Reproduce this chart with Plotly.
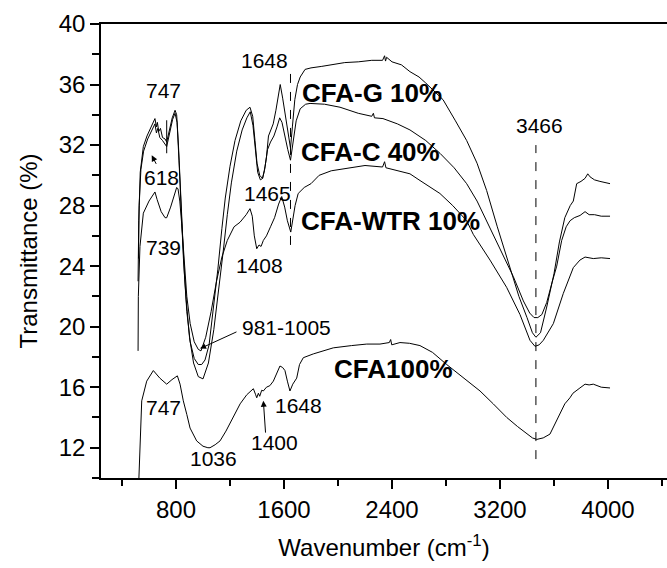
import plotly.graph_objects as go

# ---- data (wavenumber cm-1, transmittance %) ----
G_wn = [519, 524, 535, 558, 585, 607, 630, 644, 655, 662, 672, 685, 700, 719, 731, 750, 772, 793, 805, 818, 830, 845, 862, 880, 905, 935, 965, 990, 1015, 1045, 1075, 1110, 1140, 1165, 1200, 1237, 1280, 1320, 1348, 1368, 1385, 1400, 1420, 1440, 1455, 1470, 1485, 1500, 1520, 1540, 1558, 1572, 1590, 1608, 1628, 1648, 1662, 1680, 1700, 1720, 1756, 1800, 1880, 1960, 2050, 2150, 2250, 2330, 2345, 2352, 2360, 2400, 2470, 2533, 2600, 2650, 2778, 2870, 2953, 3030, 3101, 3180, 3274, 3340, 3400, 3440, 3466, 3500, 3546, 3600, 3640, 3680, 3720, 3743, 3768, 3800, 3830, 3850, 3867, 3900, 3940, 3980, 4015]
G_T = [23.0, 27.0, 30.2, 31.9, 32.6, 33.0, 33.5, 33.75, 33.2, 33.5, 32.9, 33.1, 32.5, 32.4, 32.2, 32.9, 33.8, 34.3, 34.0, 32.0, 29.5, 26.5, 23.5, 21.0, 19.0, 17.9, 17.5, 17.5, 17.8, 18.8, 21.0, 23.8, 26.5, 28.5, 30.6, 32.3, 33.6, 34.3, 34.5, 33.9, 32.3, 30.8, 30.0, 29.8, 30.3, 31.2, 32.6, 33.0, 33.4, 34.3, 35.3, 36.0, 35.1, 34.0, 32.8, 31.8, 33.2, 35.0, 36.0, 36.5, 37.0, 37.1, 37.2, 37.3, 37.45, 37.5, 37.6, 37.6, 37.9, 37.55, 37.8, 37.5, 37.3, 36.85, 36.5, 36.1, 35.0, 33.6, 32.3, 30.8, 29.0, 26.6, 23.8, 22.0, 20.6, 19.6, 19.3, 19.6, 21.3, 23.5, 25.6, 27.2, 28.0, 28.3, 29.45, 29.6, 29.8, 30.1, 29.9, 29.7, 29.6, 29.5, 29.45]

C_wn = [522, 527, 540, 560, 590, 620, 644, 655, 665, 680, 700, 731, 752, 775, 793, 808, 822, 838, 855, 875, 900, 930, 965, 1000, 1040, 1080, 1120, 1150, 1180, 1210, 1250, 1290, 1325, 1350, 1370, 1388, 1405, 1425, 1442, 1460, 1478, 1500, 1525, 1548, 1568, 1585, 1605, 1628, 1648, 1665, 1690, 1720, 1760, 1793, 1900, 2015, 2150, 2250, 2262, 2270, 2333, 2440, 2533, 2650, 2756, 2860, 2953, 3030, 3101, 3200, 3299, 3373, 3420, 3452, 3480, 3510, 3546, 3585, 3620, 3657, 3690, 3719, 3750, 3793, 3830, 3860, 3900, 3950, 4015]
C_T = [24.5, 28.0, 30.4, 31.6, 32.4, 33.0, 33.4, 32.8, 33.1, 32.5, 32.3, 31.9, 32.7, 33.7, 34.1, 33.5, 31.0, 27.8, 24.5, 21.8, 19.3, 17.6, 16.7, 16.55, 17.6, 19.8, 22.6, 25.0, 27.4, 29.5, 31.6, 33.0, 33.8, 34.2, 33.3, 31.5, 30.2, 29.7, 29.8, 30.6, 31.7, 32.2, 32.6, 33.2, 33.8, 33.5, 32.6, 31.7, 31.0, 32.2, 33.6, 34.4, 34.7, 34.75, 34.7, 34.5, 34.1, 33.9, 34.1, 33.8, 33.75, 33.4, 33.0, 32.3, 31.45, 30.5, 29.45, 28.3, 27.0, 25.2, 23.3, 21.7, 20.9, 20.6, 20.6, 20.8, 21.6, 22.9, 24.0, 25.7, 26.6, 27.0, 27.2, 27.35, 27.6, 27.4, 27.4, 27.3, 27.3]

W_wn = [519, 521, 533, 558, 600, 632, 644, 660, 690, 719, 731, 760, 790, 805, 815, 828, 842, 860, 880, 905, 935, 965, 985, 1020, 1060, 1100, 1140, 1180, 1230, 1274, 1320, 1348, 1365, 1380, 1398, 1415, 1430, 1447, 1470, 1500, 1530, 1560, 1583, 1605, 1625, 1650, 1665, 1682, 1705, 1750, 1800, 1860, 1950, 2100, 2200, 2330, 2345, 2355, 2450, 2533, 2600, 2755, 2850, 2953, 3002, 3126, 3249, 3348, 3422, 3459, 3490, 3521, 3595, 3669, 3743, 3792, 3830, 3891, 3950, 4015]
W_T = [18.4, 22.0, 25.3, 27.5, 28.3, 28.8, 28.9, 28.4, 27.6, 27.2, 27.2, 27.9, 28.7, 29.2, 29.1, 28.3, 26.8, 24.2, 22.0, 20.2, 19.0, 18.5, 18.4, 19.3, 21.0, 23.0, 24.6, 25.7, 26.6, 26.9, 27.4, 27.8, 27.3, 26.0, 25.15, 25.4, 25.3, 25.7, 26.0, 26.6, 27.2, 28.1, 28.6, 27.9, 27.0, 26.25, 27.0, 28.0, 28.8, 29.2, 29.45, 30.0, 30.3, 30.5, 30.65, 30.55, 30.9, 30.5, 30.3, 30.1, 29.7, 28.8, 28.0, 27.0, 26.1, 24.4, 22.6, 20.8, 19.1, 18.7, 18.8, 19.1, 20.2, 22.2, 23.9, 24.4, 24.6, 24.5, 24.55, 24.5]

F_wn = [519, 528, 546, 583, 632, 680, 731, 770, 810, 830, 854, 880, 904, 953, 1000, 1036, 1052, 1090, 1126, 1170, 1224, 1275, 1324, 1350, 1373, 1390, 1398, 1410, 1420, 1435, 1447, 1470, 1495, 1521, 1545, 1570, 1590, 1607, 1625, 1644, 1665, 1694, 1715, 1743, 1817, 1965, 2100, 2213, 2311, 2380, 2390, 2398, 2459, 2530, 2607, 2700, 2805, 2930, 3052, 3150, 3250, 3330, 3398, 3440, 3472, 3520, 3570, 3610, 3644, 3680, 3718, 3740, 3792, 3830, 3860, 3891, 3950, 4015]
F_T = [8.5, 10.7, 15.1, 16.4, 17.1, 16.6, 16.2, 16.5, 16.75, 16.2, 15.1, 14.2, 13.3, 12.45, 12.1, 12.0, 12.0, 12.2, 12.45, 13.1, 14.0, 14.9, 15.5, 15.7, 15.9, 15.5, 15.3, 15.6, 15.4, 15.8, 15.75, 16.0, 16.1, 16.4, 16.9, 17.4, 17.3, 17.1, 16.4, 15.75, 16.2, 16.6, 17.5, 17.95, 18.2, 18.6, 18.75, 18.85, 18.85, 18.95, 19.15, 18.8, 18.95, 18.9, 18.75, 18.3, 17.5, 16.6, 15.75, 14.9, 14.0, 13.4, 12.9, 12.65, 12.55, 12.65, 12.9, 13.6, 14.2, 14.9, 15.3, 15.6, 15.95, 16.2, 16.15, 16.2, 16.0, 15.95]

series = [("CFA-G 10%", G_wn, G_T), ("CFA-C 40%", C_wn, C_T),
          ("CFA-WTR 10%", W_wn, W_T), ("CFA100%", F_wn, F_T)]

X_RANGE = [244.4, 4437]
Y_RANGE = [10, 40]
FONT = "Arial, Liberation Sans, sans-serif"

fig = go.Figure()
for name, xs, ys in series:
    fig.add_trace(go.Scatter(x=xs, y=ys, mode="lines", name=name,
                             line=dict(color="black", width=1), showlegend=False))

# dashed reference lines
fig.add_shape(type="line", x0=1648, x1=1648, y0=25.4, y1=36.85, xref="x", yref="y",
              line=dict(color="black", width=1, dash="dash"))
fig.add_shape(type="line", x0=3466, x1=3466, y0=11.25, y1=32.0, xref="x", yref="y",
              line=dict(color="black", width=1, dash="dash"))
# small vertical marker near 747
fig.add_shape(type="line", x0=731, x1=731, y0=31.46, y1=33.64, xref="x", yref="y",
              line=dict(color="black", width=1))

def label(x, y, text, size=21, bold=False, xanchor="center"):
    t = f"<b>{text}</b>" if bold else text
    fig.add_annotation(x=x, y=y, xref="x", yref="y", text=t, showarrow=False,
                       xanchor=xanchor, yanchor="middle",
                       font=dict(family=FONT, size=size, color="black"))

label(704, 35.63, "747")
label(696, 29.87, "618")
label(704, 25.23, "739")
label(1459, 37.6, "1648")
label(1474, 28.8, "1465")
label(1422, 24.04, "1408")
label(3496, 33.31, "3466")
label(1274, 19.93, "981-1005", xanchor="left")
label(704, 14.64, "747")
label(1704, 14.77, "1648")
label(1533, 12.32, "1400")
label(1074, 11.32, "1036")
label(1718, 35.43, "CFA-G 10%", size=26, bold=True, xanchor="left")
label(1711, 31.52, "CFA-C 40%", size=26, bold=True, xanchor="left")
label(1711, 27.0, "CFA-WTR 10%", size=26, bold=True, xanchor="left")
label(1956, 17.22, "CFA100%", size=26, bold=True, xanchor="left")

def arrow(x0, y0, x1, y1):
    fig.add_annotation(x=x1, y=y1, ax=x0, ay=y0, xref="x", yref="y", axref="x", ayref="y",
                       text="", showarrow=True, arrowhead=2, arrowsize=1.2,
                       arrowwidth=1, arrowcolor="black")

arrow(1259, 19.7, 978, 18.55)
arrow(1464, 12.9, 1447, 15.1)
arrow(659, 30.66, 620, 31.32)

axis_common = dict(showgrid=False, zeroline=False, showline=True, linecolor="black",
                   linewidth=1.5, ticks="outside", tickcolor="black", tickwidth=1.5,
                   ticklen=9, tickfont=dict(family=FONT, size=24, color="black"))

fig.update_xaxes(range=X_RANGE, tick0=0, dtick=800, mirror=True,
                 minor=dict(dtick=400, tick0=0, ticks="outside", ticklen=6,
                            tickcolor="black", tickwidth=1.5),
                 title=dict(text="Wavenumber (cm<sup>-1</sup>)",
                            font=dict(family=FONT, size=24, color="black"), standoff=18),
                 **axis_common)
fig.update_yaxes(range=Y_RANGE, tick0=0, dtick=4,
                 minor=dict(dtick=2, tick0=0, ticks="outside", ticklen=7,
                            tickcolor="black", tickwidth=1.5),
                 title=dict(text="Transmittance (%)",
                            font=dict(family=FONT, size=24, color="black"), standoff=14),
                 **axis_common)

fig.update_layout(width=667, height=568, margin=dict(l=101, r=0, t=24, b=90),
                  paper_bgcolor="white", plot_bgcolor="white",
                  font=dict(family=FONT, color="black"))

fig.write_html("out.html")
